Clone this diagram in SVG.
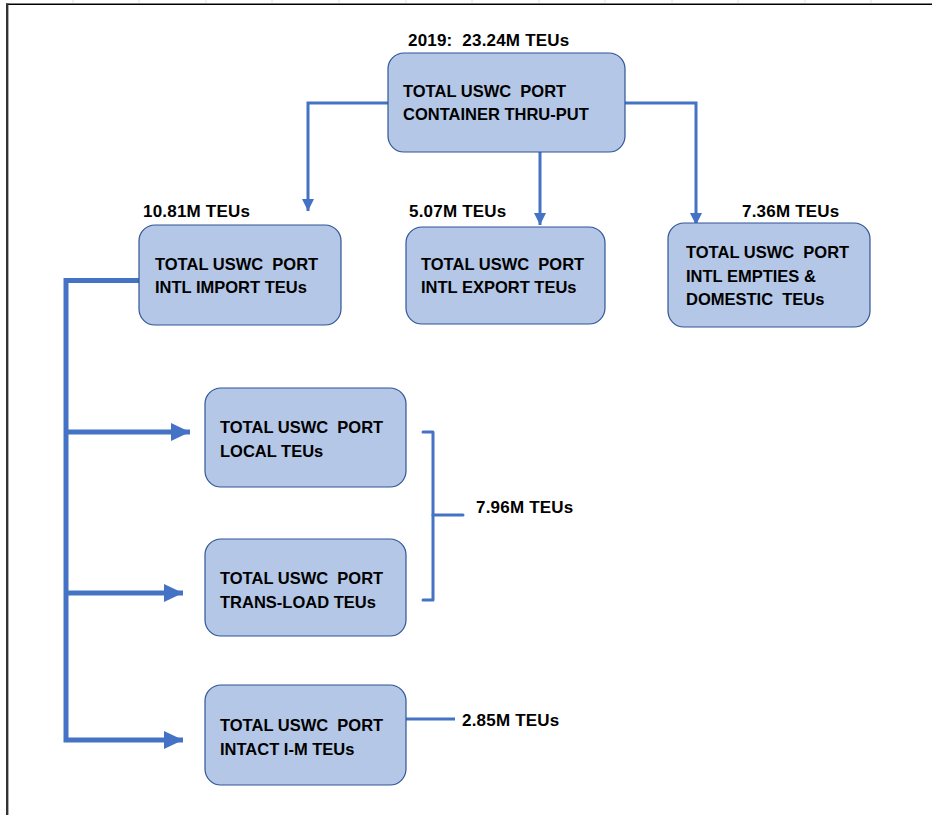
<svg xmlns="http://www.w3.org/2000/svg" width="932" height="815" viewBox="0 0 932 815">
<style>
  .box { fill: #B4C7E7; stroke: #2F5597; stroke-width: 1.2; }
  .t { font-family: "Liberation Sans", Arial, sans-serif; font-weight: bold; font-size: 16.5px; fill: #000; white-space: pre; }
  .v { font-family: "Liberation Sans", Arial, sans-serif; font-weight: bold; font-size: 17px; fill: #000; white-space: pre; letter-spacing: 0.2px; }
  .thin { fill: none; stroke: #4472C4; stroke-width: 3; stroke-linejoin: miter; }
  .thick { fill: none; stroke: #4472C4; stroke-width: 5; stroke-linejoin: miter; }
  .brk { fill: none; stroke: #4472C4; stroke-width: 3; stroke-linejoin: round; stroke-linecap: round; }
  .tick { stroke: #E2E2E2; stroke-width: 1; }
</style>
<defs>
  <marker id="ah" markerUnits="userSpaceOnUse" markerWidth="12" markerHeight="12" refX="12" refY="6" orient="auto">
    <path d="M0,0 L12,6 L0,12 z" fill="#4472C4"/>
  </marker>
  <marker id="ahb" markerUnits="userSpaceOnUse" markerWidth="19" markerHeight="18" refX="19" refY="9" orient="auto">
    <path d="M0,0 L19,9 L0,18 z" fill="#4472C4"/>
  </marker>
</defs>
<rect x="0" y="0" width="932" height="815" fill="#FFFFFF"/>
<g id="frame">
  <g class="tick">
    <line x1="73" y1="0" x2="73" y2="3"/><line x1="139" y1="0" x2="139" y2="3"/><line x1="206" y1="0" x2="206" y2="3"/>
    <line x1="272" y1="0" x2="272" y2="3"/><line x1="339" y1="0" x2="339" y2="3"/><line x1="406" y1="0" x2="406" y2="3"/>
    <line x1="472" y1="0" x2="472" y2="3"/><line x1="539" y1="0" x2="539" y2="3"/><line x1="605" y1="0" x2="605" y2="3"/>
    <line x1="672" y1="0" x2="672" y2="3"/><line x1="738" y1="0" x2="738" y2="3"/><line x1="805" y1="0" x2="805" y2="3"/>
    <line x1="871" y1="0" x2="871" y2="3"/>
  </g>
  <line x1="6" y1="4.2" x2="932" y2="4.2" stroke="#000" stroke-width="1.5"/>
  <line x1="7.2" y1="3.5" x2="7.2" y2="815" stroke="#333" stroke-width="2.4"/>
</g>
<g id="connectors">
  <path class="thin" d="M388,103 H308 V211" marker-end="url(#ah)"/>
  <path class="thin" d="M540,152 V225" marker-end="url(#ah)"/>
  <path class="thin" d="M625,103 H696 V225" marker-end="url(#ah)"/>
  <path class="thick" d="M139,280.5 H66 V740 H183" marker-end="url(#ahb)"/>
  <path class="thick" d="M66,432 H190" marker-end="url(#ahb)"/>
  <path class="thick" d="M66,593 H183" marker-end="url(#ahb)"/>
  <path class="brk" d="M423,432 H433 V600 H423"/>
  <path class="brk" d="M433,515 H463"/>
  <path class="thin" d="M406,719 H455"/>
</g>
<g id="node-total">
  <rect class="box" x="388" y="53" width="237" height="99" rx="16"/>
  <text class="v" x="408" y="46">2019:  23.24M TEUs</text>
  <text class="t" x="403" y="97">TOTAL USWC  PORT</text>
  <text class="t" x="403" y="120">CONTAINER THRU-PUT</text>
</g>
<g id="node-import">
  <rect class="box" x="139" y="225" width="202" height="100" rx="16"/>
  <text class="v" x="143" y="217">10.81M TEUs</text>
  <text class="t" x="155" y="270">TOTAL USWC  PORT</text>
  <text class="t" x="155" y="293">INTL IMPORT TEUs</text>
</g>
<g id="node-export">
  <rect class="box" x="406" y="227" width="199" height="97" rx="16"/>
  <text class="v" x="409" y="217">5.07M TEUs</text>
  <text class="t" x="421" y="270">TOTAL USWC  PORT</text>
  <text class="t" x="421" y="293">INTL EXPORT TEUs</text>
</g>
<g id="node-empties">
  <rect class="box" x="668" y="223" width="202" height="104" rx="16"/>
  <text class="v" x="742" y="217">7.36M TEUs</text>
  <text class="t" x="686" y="258">TOTAL USWC  PORT</text>
  <text class="t" x="686" y="282">INTL EMPTIES &amp;</text>
  <text class="t" x="686" y="305">DOMESTIC  TEUs</text>
</g>
<g id="node-local">
  <rect class="box" x="205" y="388" width="201" height="99" rx="16"/>
  <text class="t" x="220" y="433">TOTAL USWC  PORT</text>
  <text class="t" x="220" y="457">LOCAL TEUs</text>
</g>
<g id="node-transload">
  <rect class="box" x="205" y="539" width="201" height="97" rx="16"/>
  <text class="t" x="220" y="584">TOTAL USWC  PORT</text>
  <text class="t" x="220" y="608">TRANS-LOAD TEUs</text>
</g>
<g id="label-796">
  <text class="v" x="476" y="513">7.96M TEUs</text>
</g>
<g id="node-intact">
  <rect class="box" x="205" y="685" width="201" height="100" rx="16"/>
  <text class="t" x="220" y="731">TOTAL USWC  PORT</text>
  <text class="t" x="220" y="755">INTACT I-M TEUs</text>
  <text class="v" x="462" y="726">2.85M TEUs</text>
</g>
</svg>
